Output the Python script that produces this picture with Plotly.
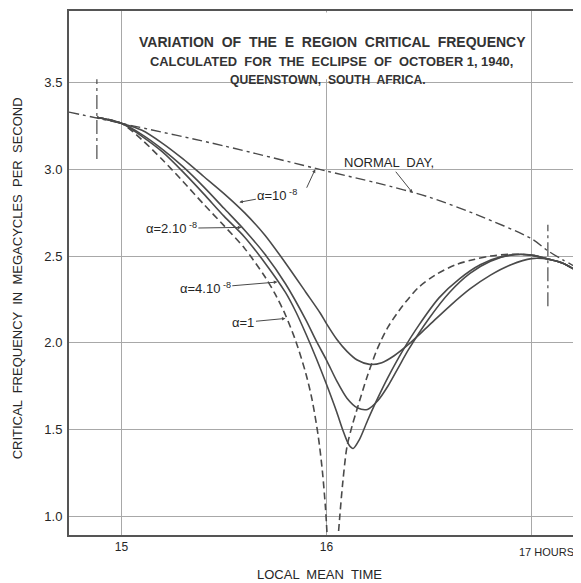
import plotly.graph_objects as go

# ---------------- data ----------------
normal_t = [14.744, 15.0, 15.5, 16.0, 16.25, 16.5, 16.75, 17.0, 17.08, 17.15, 17.227]
normal_f = [3.33, 3.265, 3.135, 2.99, 2.92, 2.84, 2.73, 2.60, 2.53, 2.48, 2.43]

# alpha = 1 (dashed) -- it drops below the bottom of the chart between the two branches
a1_t = [14.88, 15.0, 15.1, 15.2, 15.3, 15.4, 15.5, 15.6, 15.7, 15.75, 15.8, 15.85, 15.9, 15.93,
        15.96, 15.98, 15.995, 16.005,
        None,
        16.055, 16.065, 16.08, 16.10, 16.125, 16.15, 16.2, 16.25, 16.3, 16.37, 16.45, 16.53,
        16.63, 16.72, 16.8, 16.9, 17.0, 17.09, 17.15, 17.227]
a1_f = [3.30, 3.265, 3.17, 3.055, 2.93, 2.80, 2.675, 2.545, 2.38, 2.28, 2.16, 2.01, 1.82, 1.67,
        1.46, 1.26, 1.05, 0.85,
        None,
        0.85, 1.0, 1.2, 1.40, 1.52, 1.62, 1.81, 1.97, 2.09, 2.21, 2.32, 2.39,
        2.45, 2.48, 2.50, 2.51, 2.505, 2.48, 2.46, 2.41]

a4_t = [14.88, 15.0, 15.1, 15.2, 15.3, 15.4, 15.5, 15.6, 15.7, 15.8, 15.85, 15.9, 15.95, 16.0,
        16.05, 16.08, 16.11, 16.13, 16.16, 16.2, 16.25, 16.3, 16.37, 16.45, 16.55, 16.65, 16.75,
        16.85, 16.95, 17.0, 17.09, 17.15, 17.227]
a4_f = [3.30, 3.265, 3.19, 3.10, 2.985, 2.86, 2.73, 2.61, 2.46, 2.29, 2.18, 2.05, 1.91, 1.76,
        1.60, 1.495, 1.41, 1.39, 1.44, 1.55, 1.68, 1.80, 1.95, 2.10, 2.26, 2.37, 2.45,
        2.495, 2.51, 2.505, 2.48, 2.46, 2.41]

a2_t = [14.88, 15.0, 15.1, 15.2, 15.3, 15.4, 15.5, 15.6, 15.7, 15.8, 15.9, 15.95, 16.0, 16.05,
        16.10, 16.15, 16.2, 16.25, 16.3, 16.35, 16.4, 16.5, 16.6, 16.7, 16.8, 16.9, 17.0,
        17.09, 17.15, 17.227]
a2_f = [3.30, 3.265, 3.20, 3.115, 3.015, 2.90, 2.775, 2.65, 2.51, 2.34, 2.13, 2.01, 1.90, 1.78,
        1.68, 1.625, 1.615, 1.665, 1.75, 1.855, 1.96, 2.14, 2.29, 2.40, 2.47, 2.505, 2.505,
        2.48, 2.46, 2.41]

a10_t = [14.88, 15.0, 15.1, 15.2, 15.3, 15.4, 15.5, 15.6, 15.7, 15.8, 15.9, 15.97, 16.0, 16.05,
         16.1, 16.15, 16.21, 16.27, 16.33, 16.4, 16.5, 16.6, 16.7, 16.8, 16.9, 17.0, 17.09,
         17.15, 17.227]
a10_f = [3.30, 3.265, 3.225, 3.15, 3.06, 2.96, 2.86, 2.75, 2.62, 2.46, 2.29, 2.17, 2.11, 2.02,
         1.95, 1.90, 1.875, 1.885, 1.925, 1.99, 2.10, 2.21, 2.31, 2.39, 2.45, 2.485, 2.48,
         2.46, 2.41]

# eclipse contact markers
contact_t = [14.88, 17.08]
contact_lo = [3.06, 2.21]
contact_hi = [3.52, 2.68]

x_ticks = [15, 16, 17]
x_ticktext = ["15", "16", ""]
y_ticks = [1.0, 1.5, 2.0, 2.5, 3.0, 3.5]

title_lines = ["VARIATION  OF  THE  E  REGION  CRITICAL  FREQUENCY",
               "CALCULATED  FOR  THE  ECLIPSE  OF  OCTOBER 1, 1940,",
               "QUEENSTOWN,  SOUTH  AFRICA."]

# ---------------- styling ----------------
INK = "#4a4a4a"
TXT = "#262626"
GRID = "#a8a8a8"
FONT = "Liberation Sans, Arial, sans-serif"

fig = go.Figure()

def curve(t, f, dash="solid", width=1.6):
    fig.add_trace(go.Scatter(x=t, y=f, mode="lines", line_shape="spline",
                             line=dict(color=INK, width=width, dash=dash, smoothing=0.8),
                             connectgaps=False, hoverinfo="skip", showlegend=False))

curve(normal_t, normal_f, dash="10px,4px,3px,4px", width=1.4)
curve(a10_t, a10_f)
curve(a2_t, a2_f)
curve(a4_t, a4_f)
curve(a1_t, a1_f, dash="7px,4px")

for t, lo, hi in zip(contact_t, contact_lo, contact_hi):
    fig.add_trace(go.Scatter(x=[t, t], y=[lo, hi], mode="lines",
                             line=dict(color=INK, width=1.2, dash="14px,4px,3px,4px"),
                             hoverinfo="skip", showlegend=False))

# the x=16 grid line stops at the 3.5 line on the original sheet
fig.add_shape(type="rect", x0=15.9, x1=16.1, y0=3.52, y1=3.905, layer="between",
              fillcolor="white", line_width=0)

# ---------------- annotations ----------------
ann = []
for txt, xp, yp, sz in zip(title_lines, [0.517, 0.515, 0.508], [0.941, 0.903, 0.869], [14, 12.9, 12.1]):
    ann.append(dict(xref="paper", yref="paper", x=xp, y=yp, xanchor="center", yanchor="middle",
                    text="<b>" + txt + "</b>", showarrow=False,
                    font=dict(family=FONT, size=sz, color="#333333")))

lab_font = dict(family=FONT, size=13, color=TXT)
arrow = dict(arrowhead=2, arrowsize=0.7, arrowwidth=1, arrowcolor=INK)
ann.append(dict(x=16.42, y=2.865, text="NORMAL  DAY,", showarrow=True, ax=-24, ay=-30,
                font=lab_font, **arrow))
ann.append(dict(x=15.575, y=2.81, text="α=10<sup> -8</sup>", showarrow=True, ax=38, ay=-7,
                font=lab_font, **arrow))
ann.append(dict(x=15.945, y=3.0, text=" ", showarrow=True, ax=-12, ay=26,
                font=lab_font, **arrow))
ann.append(dict(x=15.585, y=2.665, text="α=2.10<sup> -8</sup>", showarrow=True, ax=-70, ay=1,
                font=lab_font, **arrow))
ann.append(dict(x=15.76, y=2.35, text="α=4.10<sup> -8</sup>", showarrow=True, ax=-72, ay=6,
                font=lab_font, **arrow))
ann.append(dict(x=15.80, y=2.14, text="α=1", showarrow=True, ax=-42, ay=4,
                font=lab_font, **arrow))

ann.append(dict(x=17, y=0, xref="x", yref="paper", text="17 HOURS", showarrow=False,
                xanchor="left", yanchor="top", xshift=-14, yshift=-9,
                font=dict(family=FONT, size=11, color=TXT)))
ann.append(dict(xref="paper", yref="paper", x=0.493, y=-0.076, xanchor="center", yanchor="middle",
                text="LOCAL  MEAN  TIME", showarrow=False,
                font=dict(family=FONT, size=13, color=TXT)))
ann.append(dict(xref="paper", yref="paper", x=-0.102, y=0.49, xanchor="center", yanchor="middle",
                text="CRITICAL  FREQUENCY  IN  MEGACYCLES  PER  SECOND", textangle=-90,
                showarrow=False, font=dict(family=FONT, size=13, color=TXT)))

# the page is drawn with the browser's 8px body margin, so the figure is 8px smaller
fig.update_layout(
    width=573, height=575,
    margin=dict(l=61, r=3, t=1, b=48),
    paper_bgcolor="white", plot_bgcolor="white",
    showlegend=False,
    annotations=ann,
    font=dict(family=FONT, color=TXT),
)
fig.update_xaxes(range=[14.744, 17.227], tickvals=x_ticks, ticktext=x_ticktext,
                 showgrid=True, gridcolor=GRID, gridwidth=1.3,
                 showline=True, linecolor="#555555", linewidth=2, mirror=True,
                 ticks="", zeroline=False, tickfont=dict(family=FONT, size=12, color=TXT))
fig.update_yaxes(range=[0.891, 3.913], tickvals=y_ticks, tickformat=".1f",
                 showgrid=True, gridcolor=GRID, gridwidth=1.3,
                 showline=True, linecolor="#555555", linewidth=2, mirror=True,
                 ticks="", zeroline=False, ticklabelstandoff=2,
                 tickfont=dict(family=FONT, size=13, color=TXT))

fig.write_html("out.html")
